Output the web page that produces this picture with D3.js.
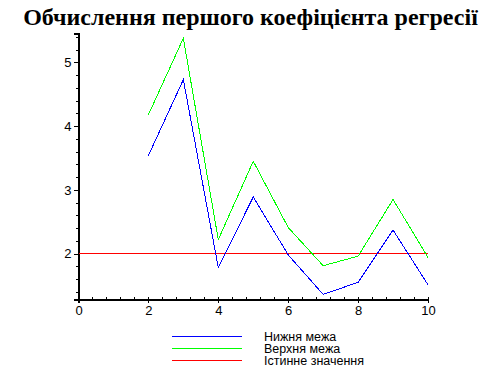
<!DOCTYPE html>
<meta charset="utf-8">
<script src="https://cdn.jsdelivr.net/npm/d3@7"></script>
<style>
body { margin: 0; background: #fff; }
text { font-family: "Liberation Sans", Arial, sans-serif; }
.title { font-family: "Liberation Serif", "Times New Roman", serif; font-weight: bold; font-size: 24px; }
.tick text { font-size: 13px; }
.legend text { font-size: 12.5px; }
path, line { shape-rendering: crispEdges; }
</style>
<body>
<script>

var xs = [2, 3, 4, 5, 6, 7, 8, 9, 10];
var lower = [3.54, 4.73, 1.78, 2.89, 1.98, 1.36, 1.55, 2.37, 1.51];
var upper = [4.18, 5.38, 2.22, 3.45, 2.41, 1.81, 1.96, 2.85, 1.94];
var trueValue = 2;
var seriesNames = ["Нижня межа", "Верхня межа", "Істинне значення"];
var seriesColors = ["#0000ff", "#00ff00", "#ff0000"];

var width = 501,
    height = 382;

var svg = d3.select("body").append("svg")
    .attr("width", width)
    .attr("height", height);

var x = d3.scaleLinear().domain([0, 10]).range([78.5, 428]);
var y = d3.scaleLinear().domain([1.28, 5.455]).range([299.5, 33.5]);

svg.append("text")
    .attr("class", "title")
    .attr("x", width / 2)
    .attr("y", 25)
    .attr("text-anchor", "middle")
    .text("Обчислення першого коефіцієнта регресії");

// minor ticks
var xMinor = d3.range(0, 10.01, 0.4);
var yMinor = d3.range(1.4, 5.41, 0.2);

svg.append("g").selectAll("line")
    .data(xMinor)
    .enter().append("line")
    .attr("x1", function(d) { return Math.round(x(d)) + 0.5; })
    .attr("x2", function(d) { return Math.round(x(d)) + 0.5; })
    .attr("y1", y.range()[0])
    .attr("y2", y.range()[0] - 3)
    .attr("stroke", "#000");

svg.append("g").selectAll("line")
    .data(yMinor)
    .enter().append("line")
    .attr("y1", function(d) { return Math.round(y(d)) + 0.5; })
    .attr("y2", function(d) { return Math.round(y(d)) + 0.5; })
    .attr("x1", x.range()[0])
    .attr("x2", x.range()[0] - 3)
    .attr("stroke", "#000");

var xAxis = svg.append("g")
    .attr("transform", "translate(0," + y.range()[0] + ")")
    .call(d3.axisBottom(x).tickValues([0, 2, 4, 6, 8, 10]).tickSize(3).tickPadding(3).tickFormat(d3.format("d")));

var yAxis = svg.append("g")
    .attr("transform", "translate(" + x.range()[0] + ",0)")
    .call(d3.axisLeft(y).tickValues([2, 3, 4, 5]).tickSize(5).tickPadding(2).tickFormat(d3.format("d")));

svg.selectAll(".domain").attr("stroke-width", 1.5);
svg.selectAll(".tick text").attr("fill", "#000").style("font-family", "'Liberation Sans', Arial, sans-serif");

var line = d3.line()
    .x(function(d) { return x(d[0]); })
    .y(function(d) { return y(d[1]); });

svg.append("path")
    .datum([[0, trueValue], [10, trueValue]])
    .attr("d", line)
    .attr("fill", "none")
    .attr("stroke", seriesColors[2]);

svg.append("path")
    .datum(xs.map(function(d, i) { return [d, upper[i]]; }))
    .attr("d", line)
    .attr("fill", "none")
    .attr("stroke", seriesColors[1]);

svg.append("path")
    .datum(xs.map(function(d, i) { return [d, lower[i]]; }))
    .attr("d", line)
    .attr("fill", "none")
    .attr("stroke", seriesColors[0]);

// legend
var legend = svg.append("g").attr("class", "legend")
    .selectAll("g")
    .data(seriesNames)
    .enter().append("g")
    .attr("transform", function(d, i) { return "translate(0," + (336 + i * 12) + ")"; });

legend.append("line")
    .attr("x1", 172).attr("x2", 242)
    .attr("y1", 0.5).attr("y2", 0.5)
    .attr("stroke", function(d, i) { return seriesColors[i]; });

legend.append("text")
    .attr("x", 264)
    .attr("y", 5)
    .text(function(d) { return d; });

</script>
</body>
</html>
